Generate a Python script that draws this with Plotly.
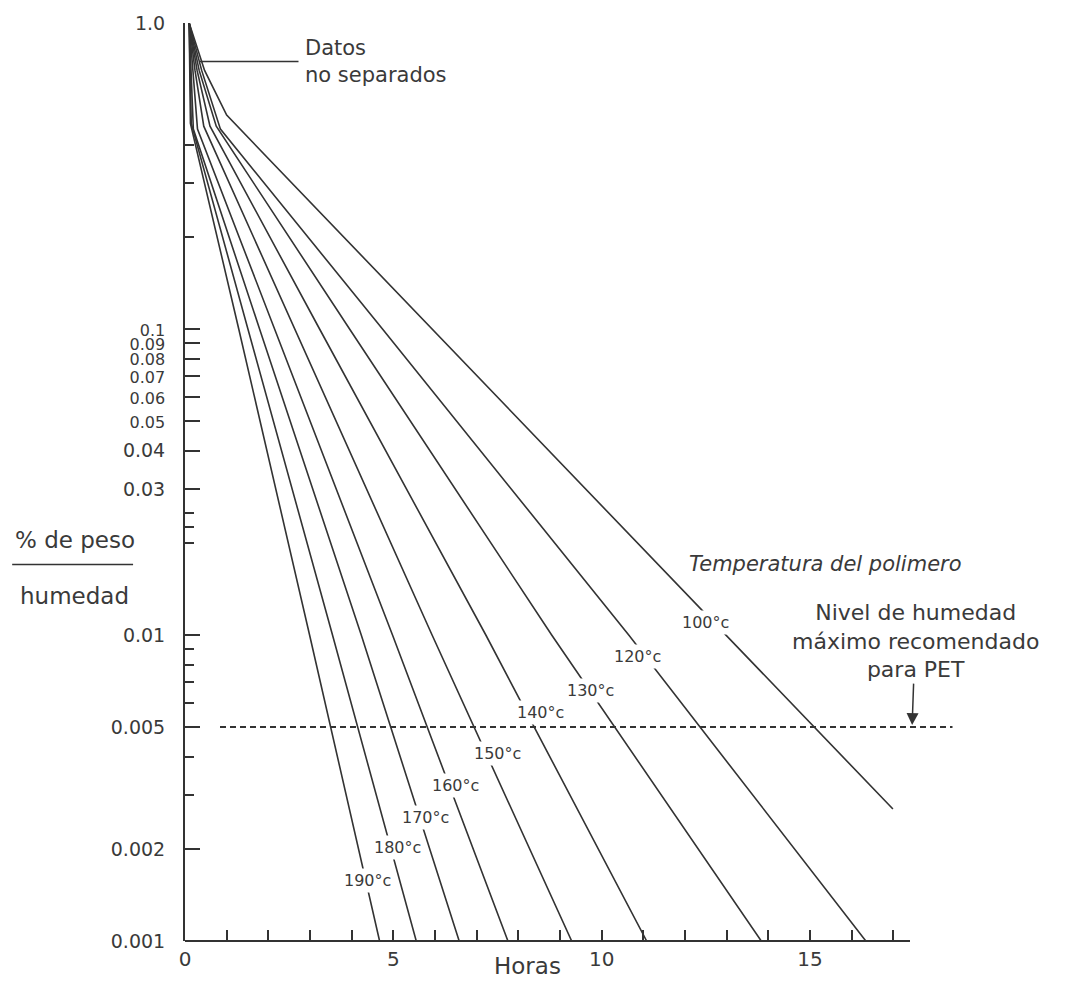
import math
import plotly.graph_objects as go

# Drying curves of PET: moisture (% weight) vs hours, per polymer temperature
temperaturas = ["100°c", "120°c", "130°c", "140°c", "150°c", "160°c", "170°c", "180°c", "190°c"]

horas_100 = [0.10, 0.47, 1.00, 5.93, 12.99, 16.99]
humedad_100 = [1.0, 0.70, 0.50, 0.10, 0.010, 0.0027]
horas_120 = [0.10, 0.40, 0.85, 4.74, 10.65, 16.34]
humedad_120 = [1.0, 0.70, 0.45, 0.10, 0.010, 0.001]
horas_130 = [0.10, 0.34, 0.75, 3.95, 8.80, 13.83]
humedad_130 = [1.0, 0.70, 0.46, 0.10, 0.010, 0.001]
horas_140 = [0.10, 0.29, 0.60, 3.23, 7.22, 11.08]
humedad_140 = [1.0, 0.70, 0.46, 0.10, 0.010, 0.001]
horas_150 = [0.10, 0.24, 0.45, 2.63, 5.93, 9.28]
humedad_150 = [1.0, 0.70, 0.46, 0.10, 0.010, 0.001]
horas_160 = [0.10, 0.19, 0.30, 2.15, 4.98, 7.75]
humedad_160 = [1.0, 0.70, 0.45, 0.10, 0.010, 0.001]
horas_170 = [0.10, 0.15, 0.20, 1.79, 4.23, 6.58]
humedad_170 = [1.0, 0.70, 0.45, 0.10, 0.010, 0.001]
horas_180 = [0.10, 0.12, 0.15, 1.51, 3.54, 5.55]
humedad_180 = [1.0, 0.70, 0.47, 0.10, 0.010, 0.001]
horas_190 = [0.10, 0.11, 0.13, 1.29, 2.99, 4.67]
humedad_190 = [1.0, 0.70, 0.47, 0.10, 0.010, 0.001]

# Where each temperature label sits along its curve
etiqueta_horas = [12.48, 10.85, 9.72, 8.52, 7.49, 6.48, 5.76, 5.09, 4.39]
etiqueta_humedad = [0.0110, 0.00853, 0.00658, 0.0056, 0.00409, 0.00323, 0.00253, 0.00202, 0.00158]

# Maximum recommended moisture for PET
nivel_maximo = 0.005
horas_nivel = [0.84, 18.42]

# Axis ticks
y_ticks = [1.0, 0.1, 0.09, 0.08, 0.07, 0.06, 0.05, 0.04, 0.03, 0.01, 0.005, 0.002, 0.001]
y_ticktext = ["1.0", "0.1", "0.09", "0.08", "0.07", "0.06", "0.05", "0.04", "0.03",
              "0.01", "0.005", "0.002", "0.001"]
y_densos = ["0.1", "0.09", "0.08", "0.07", "0.06", "0.05"]
y_minor = [0.4, 0.3, 0.2, 0.025, 0.0225, 0.02, 0.009, 0.008, 0.007, 0.006, 0.004, 0.003]
x_ticks = [0, 5, 10, 15]
x_minor = [1, 2, 3, 4, 6, 7, 8, 9, 11, 12, 13, 14, 16, 17]
x_fin_eje = 17.4

series_horas = [horas_100, horas_120, horas_130, horas_140, horas_150,
                horas_160, horas_170, horas_180, horas_190]
series_humedad = [humedad_100, humedad_120, humedad_130, humedad_140, humedad_150,
                  humedad_160, humedad_170, humedad_180, humedad_190]

INK = "#333333"
TEXT = "#3a3a3a"
FONT = "DejaVu Sans"

# tightly packed labels between 0.1 and 0.05 use a slightly smaller size
y_labels = [f'<span style="font-size:16px">{t}</span>' if t in y_densos else t
            for t in y_ticktext]

fig = go.Figure()

for nombre, hx, hy in zip(temperaturas, series_horas, series_humedad):
    fig.add_trace(go.Scatter(x=hx, y=hy, mode="lines", name=nombre,
                             line=dict(color=INK, width=1.6), hoverinfo="skip"))

fig.add_trace(go.Scatter(x=horas_nivel, y=[nivel_maximo, nivel_maximo], mode="lines",
                         line=dict(color=INK, width=2, dash="6px,4px"), hoverinfo="skip"))

annotations = []
for nombre, hx, hy in zip(temperaturas, etiqueta_horas, etiqueta_humedad):
    annotations.append(dict(x=hx, y=math.log10(hy), xref="x", yref="y", text=nombre,
                            showarrow=False, bgcolor="white", borderpad=2,
                            font=dict(family=FONT, size=16, color=TEXT)))

# Pointer to the unresolved data near the origin
annotations.append(dict(x=0.36, y=math.log10(0.748), xref="x", yref="y",
                        text="Datos<br>no separados", align="left",
                        showarrow=True, arrowhead=0, arrowwidth=1.5, arrowcolor=INK,
                        ax=176, ay=0, borderpad=6,
                        font=dict(family=FONT, size=21, color=TEXT)))

# Recommended maximum moisture marker
annotations.append(dict(x=17.45, y=math.log10(nivel_maximo), xref="x", yref="y",
                        text="Nivel de humedad<br>máximo recomendado<br>para PET",
                        align="center", showarrow=True, arrowhead=2, arrowsize=1.6,
                        arrowwidth=1.5, arrowcolor=INK, ax=3, ay=-86, standoff=2,
                        font=dict(family=FONT, size=22, color=TEXT)))

annotations.append(dict(x=15.36, y=-1.769, xref="x", yref="y",
                        text="<i>Temperatura del polimero</i>", showarrow=False,
                        font=dict(family=FONT, size=21, color=TEXT)))

annotations.append(dict(x=8.21, y=-0.027, xref="x", yref="paper", text="Horas",
                        showarrow=False, yanchor="middle",
                        font=dict(family=FONT, size=23, color=TEXT)))

annotations.append(dict(x=-0.142, y=0.437, xref="paper", yref="paper", text="% de peso",
                        xanchor="center", yanchor="middle", showarrow=False,
                        font=dict(family=FONT, size=23, color=TEXT)))
annotations.append(dict(x=-0.143, y=0.376, xref="paper", yref="paper", text="humedad",
                        xanchor="center", yanchor="middle", showarrow=False,
                        font=dict(family=FONT, size=23, color=TEXT)))

shapes = [
    # fraction bar of the y title
    dict(type="line", xref="paper", yref="paper", x0=-0.223, x1=-0.067, y0=0.410, y1=0.410,
         line=dict(color=INK, width=1.5)),
    # horizontal axis line, shorter than the plotting range
    dict(type="line", xref="x", yref="paper", x0=0, x1=x_fin_eje, y0=0, y1=0,
         line=dict(color=INK, width=2)),
]

fig.update_layout(
    width=1078, height=983,
    margin=dict(l=185, r=118, t=14, b=38),
    paper_bgcolor="white", plot_bgcolor="white",
    showlegend=False,
    annotations=annotations,
    shapes=shapes,
    xaxis=dict(range=[0, 18.6], showgrid=False, zeroline=False, showline=False,
               tickmode="array", tickvals=x_ticks, ticktext=[str(v) for v in x_ticks],
               ticks="inside", ticklen=11, tickwidth=1.5, tickcolor=INK,
               ticklabelstandoff=4,
               minor=dict(tickmode="array", tickvals=x_minor, ticks="inside",
                          ticklen=11, tickwidth=1.5, tickcolor=INK, showgrid=False),
               tickfont=dict(family=FONT, size=20, color=TEXT)),
    yaxis=dict(type="log", range=[-3, 0], showgrid=False, zeroline=False,
               showline=True, linewidth=2, linecolor=INK,
               tickmode="array", tickvals=y_ticks, ticktext=y_labels,
               ticks="inside", ticklen=15, tickwidth=1.5, tickcolor=INK,
               ticklabelstandoff=14,
               minor=dict(tickmode="array", tickvals=y_minor, ticks="inside",
                          ticklen=9, tickwidth=1.5, tickcolor=INK, showgrid=False),
               tickfont=dict(family=FONT, size=19, color=TEXT)),
)

fig.write_html("out.html")
